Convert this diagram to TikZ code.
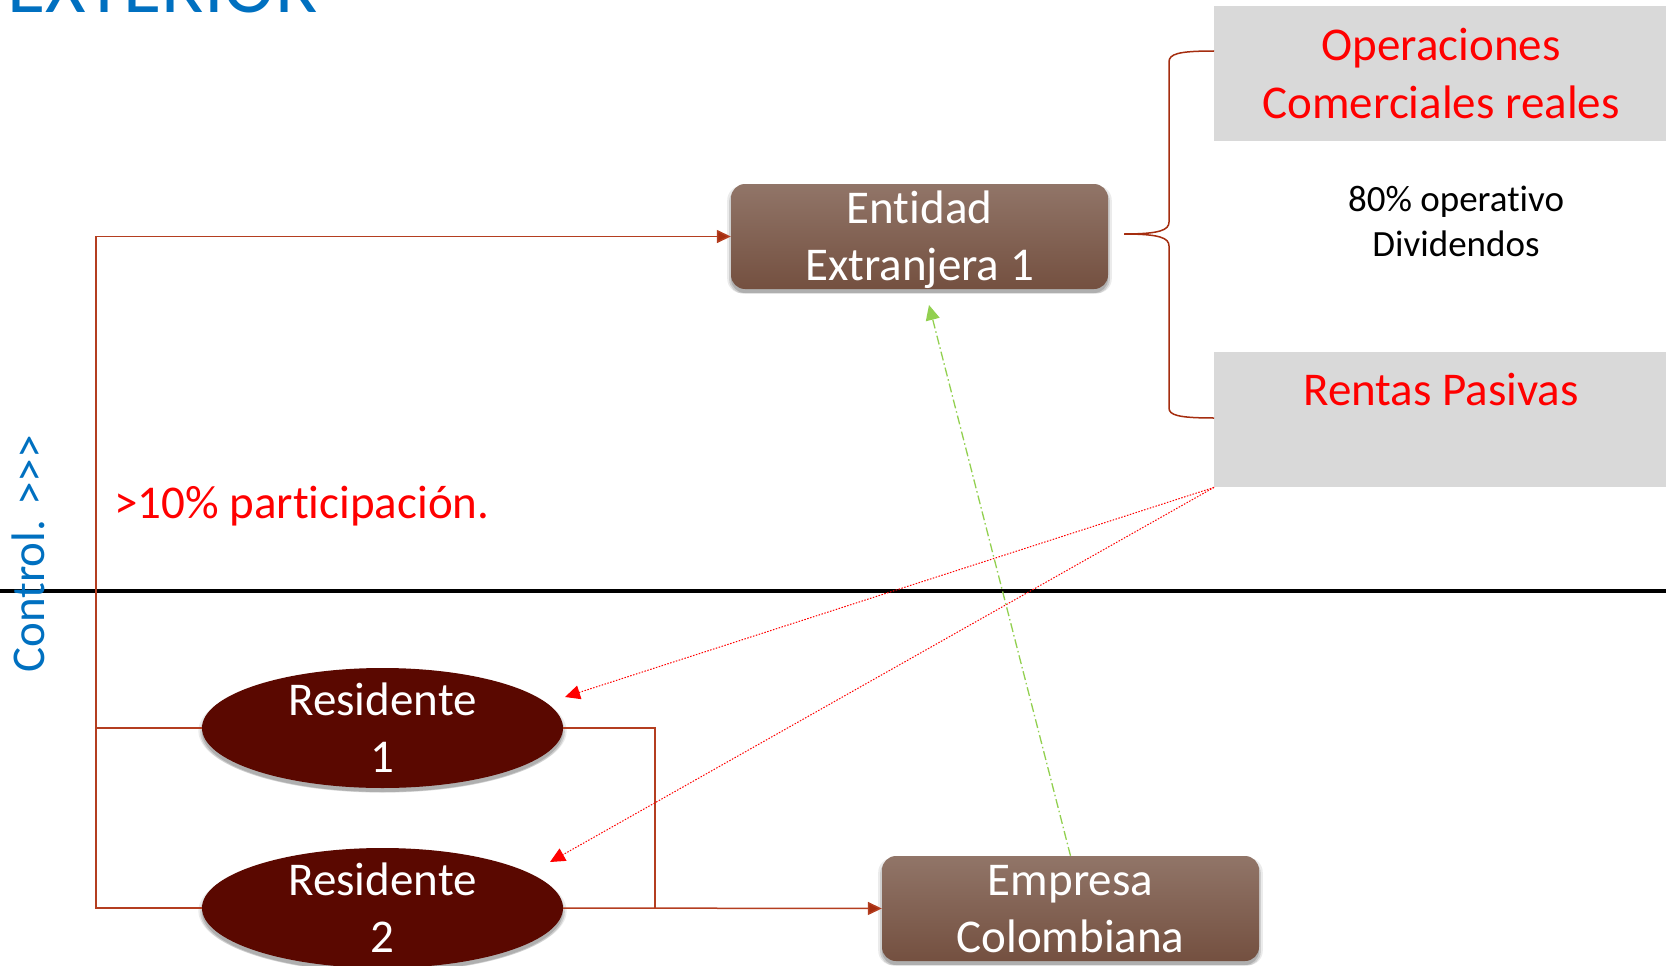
\documentclass[tikz,border=0pt]{standalone}
\usepackage{fontspec}
\setmainfont{Carlito}[Ligatures={NoCommon}]
\usetikzlibrary{shapes.geometric,arrows.meta,shadows,calc}
\definecolor{connc}{RGB}{180,62,32}
\definecolor{arrc}{RGB}{165,45,15}
\definecolor{boxtop}{RGB}{145,117,104}
\definecolor{boxbot}{RGB}{116,80,64}
\definecolor{resfill}{RGB}{90,8,0}
\definecolor{greyfill}{RGB}{217,217,217}
\definecolor{bluetxt}{RGB}{0,112,192}
\definecolor{redtxt}{RGB}{255,0,0}
\definecolor{greenarr}{RGB}{146,208,80}
\newcommand\fsmain{\fontsize{47}{57}\selectfont}
\newcommand\fssmall{\fontsize{37}{45}\selectfont}
\newcommand\tisep{t\kern0pt i}
\begin{document}
\begin{tikzpicture}[x=1pt,y=-1pt,
  softshadow/.style={
     general shadow={shadow xshift=0pt, shadow yshift=-3pt, shadow scale=1.02, opacity=0.08, fill=black},
     general shadow={shadow xshift=0pt, shadow yshift=-4pt, shadow scale=1.01, opacity=0.12, fill=black},
     general shadow={shadow xshift=0pt, shadow yshift=-4pt, opacity=0.15, fill=black}},
  brownbox/.style={rectangle, rounded corners=14pt, minimum width=377pt, minimum height=105pt, inner sep=0pt,
     top color=boxtop, bottom color=boxbot, draw=none, softshadow},
  resell/.style={ellipse, minimum width=361pt, minimum height=120pt, inner sep=0pt, fill=resfill, softshadow},
  greybox/.style={rectangle, fill=greyfill, draw=none, inner sep=0pt},
  wlabel/.style={anchor=base, inner sep=0pt, text=white, font=\fsmain},
  rlabel/.style={anchor=base, inner sep=0pt, text=redtxt, font=\fsmain},
  conn/.style={draw=connc, line width=1.5pt},
  connarr/.style={conn, -{Triangle[length=14pt,width=13pt,fill=arrc]}},
  reddot/.style={draw=redtxt, line width=1pt, dash pattern=on 1.5pt off 1.5pt, -{Triangle[length=15pt,width=14pt]}},
  greendash/.style={draw=greenarr, line width=1.3pt, dash pattern=on 9pt off 3pt on 1.5pt off 3pt, -{Triangle[length=15pt,width=14pt]}},
  bracestyle/.style={draw=arrc, line width=1.5pt}
]
\useasboundingbox (0,0) rectangle (1666,966);
\clip (0,0) rectangle (1666,966);

% title (cut off at top)
\node[anchor=base west, inner sep=0pt, text=bluetxt, font=\fontsize{78}{90}\selectfont] (title) at (7,13) {EXTERIOR};

% grey boxes
\node[greybox, minimum width=452pt, minimum height=135pt, anchor=north west] (ops) at (1214,6) {};
\node[greybox, minimum width=452pt, minimum height=135pt, anchor=north west] (rentas) at (1214,352) {};
\node[rlabel] (opsL1) at (1441,61) {Operaciones};
\node[rlabel] (opsL2) at (1441,118) {Comerciales reales};
\node[rlabel] (rentasL) at (1441,405) {Rentas Pasivas};
\node[anchor=base, inner sep=0pt, font=\fssmall] (op80a) at (1456,211) {80\% opera\tisep vo};
\node[anchor=base, inner sep=0pt, font=\fssmall] (op80b) at (1456,256) {Dividendos};

% brace
\draw[bracestyle] (1214,51) .. controls (1178,51) and (1169,54) .. (1169,62) -- (1169,222)
  .. controls (1169,230) and (1160,234) .. (1124,234)
  .. controls (1160,234) and (1169,238) .. (1169,246) -- (1169,408)
  .. controls (1169,415) and (1178,418) .. (1214,418);

% horizontal black divider
\draw[line width=3.2pt, black] (0,591) -- (1666,591);

% main nodes
\node[brownbox] (ent) at (919.5,236.5) {};
\node[wlabel] (entL1) at (919.5,223) {En\tisep dad};
\node[wlabel] (entL2) at (919.5,280) {Extranjera 1};

\node[brownbox] (emp) at (1070.5,908.5) {};
\node[wlabel] (empL1) at (1070.5,895) {Empresa};
\node[wlabel] (empL2) at (1070.5,952) {Colombiana};

\node[resell] (r1) at (382.5,728) {};
\node[wlabel] (r1L1) at (382.5,715) {Residente};
\node[wlabel] (r1L2) at (382.5,772) {1};

\node[resell] (r2) at (382.5,908) {};
\node[wlabel] (r2L1) at (382.5,895) {Residente};
\node[wlabel] (r2L2) at (382.5,952) {2};

% connectors
\coordinate (lc) at (96,236.5);
\coordinate (rc) at (655,728);
\draw[connarr] (r2.west) -| (lc) -- (ent.west);
\draw[conn] (r1.west) -- (r1.west -| lc);
\draw[conn] (r1.east) -- (rc) -- (rc |- r2.east);
\draw[connarr] (r2.east) -- (emp.west);

% dotted red arrows from Rentas Pasivas
\coordinate (t1) at (565,697);
\coordinate (t2) at (550,862);
\draw[reddot] (rentas.south west) -- (t1);
\draw[reddot] (rentas.south west) -- (t2);

% green dash-dot arrow
\coordinate (gtip) at (929,305);
\draw[greendash] (emp.north) -- (gtip);

% labels
\node[anchor=base west, inner sep=0pt, text=redtxt, font=\fsmain] (part) at (114,518) {>10\% par\tisep cipación.};
\node[rotate=90, anchor=base, inner sep=0pt, text=bluetxt, font=\fsmain] (ctrl) at (44,554) {Control. >{}>{}>};
\end{tikzpicture}
\end{document}
